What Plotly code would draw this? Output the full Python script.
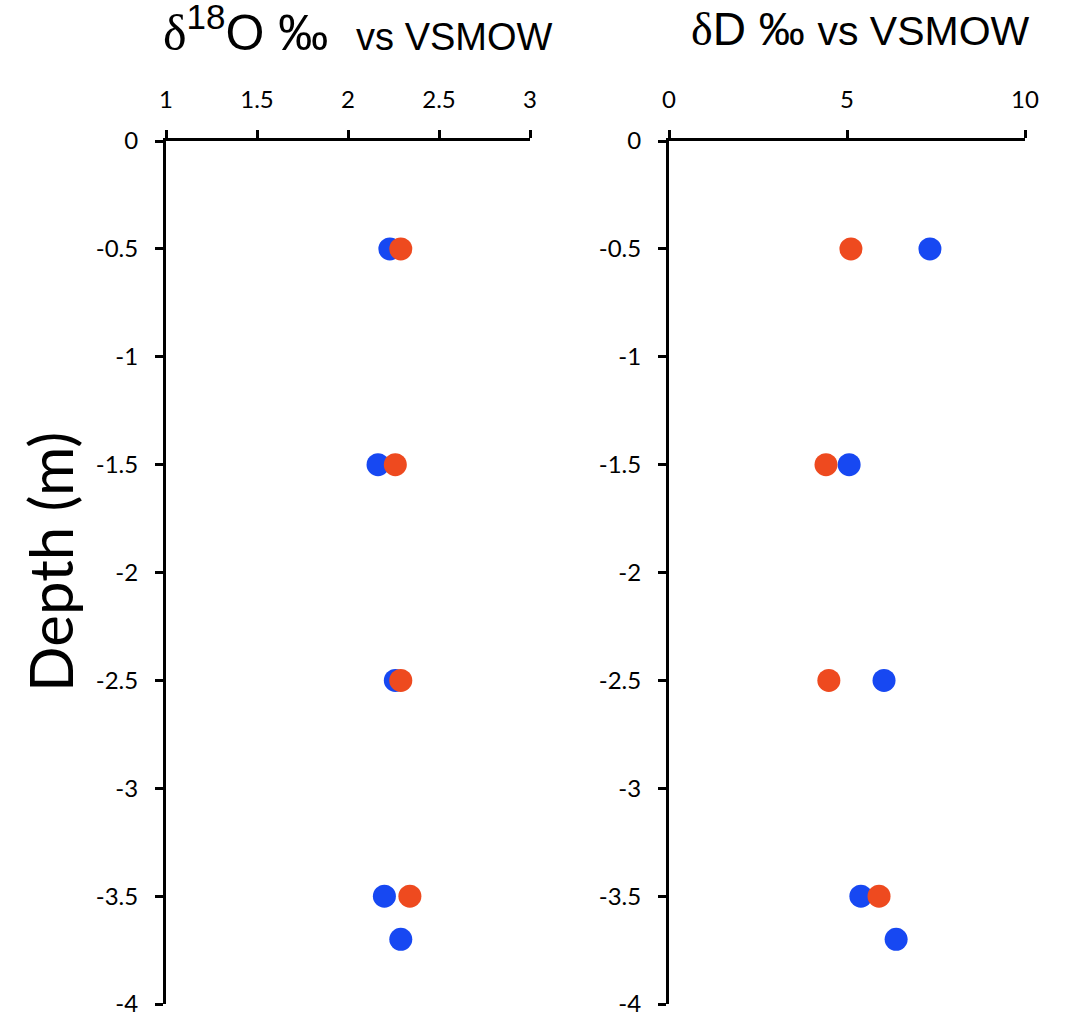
import plotly.graph_objects as go

# Data
depth_blue = [-0.5, -1.5, -2.5, -3.5, -3.7]
d18o_blue = [2.23, 2.165, 2.26, 2.20, 2.29]
dD_blue = [7.33, 5.06, 6.04, 5.39, 6.38]

depth_red = [-0.5, -1.5, -2.5, -3.5]
d18o_red = [2.29, 2.26, 2.29, 2.34]
dD_red = [5.11, 4.41, 4.49, 5.90]

y_ticks = [0, -0.5, -1, -1.5, -2, -2.5, -3, -3.5, -4]
y_ticktext = ["0", "-0.5", "-1", "-1.5", "-2", "-2.5", "-3", "-3.5", "-4"]
x1_ticks = [1, 1.5, 2, 2.5, 3]
x1_ticktext = ["1", "1.5", "2", "2.5", "3"]
x2_ticks = [0, 5, 10]
x2_ticktext = ["0", "5", "10"]

BLUE = "#1748f2"
RED = "#ee4a1f"
MS = 23

fig = go.Figure()
fig.add_trace(go.Scatter(x=d18o_blue, y=depth_blue, mode="markers",
                         marker=dict(color=BLUE, size=MS, line=dict(width=0)),
                         xaxis="x", yaxis="y", showlegend=False, cliponaxis=False))
fig.add_trace(go.Scatter(x=d18o_red, y=depth_red, mode="markers",
                         marker=dict(color=RED, size=MS, line=dict(width=0)),
                         xaxis="x", yaxis="y", showlegend=False, cliponaxis=False))
fig.add_trace(go.Scatter(x=dD_blue, y=depth_blue, mode="markers",
                         marker=dict(color=BLUE, size=MS, line=dict(width=0)),
                         xaxis="x2", yaxis="y2", showlegend=False, cliponaxis=False))
fig.add_trace(go.Scatter(x=dD_red, y=depth_red, mode="markers",
                         marker=dict(color=RED, size=MS, line=dict(width=0)),
                         xaxis="x2", yaxis="y2", showlegend=False, cliponaxis=False))

W, H = 1066, 1025
tickfont = dict(family="Lato, Open Sans, sans-serif", size=24, color="black")
ydom = [(H - 1004) / H, (H - 141) / H]

axis_common = dict(showline=True, linecolor="black", linewidth=3, ticks="outside",
                   tickwidth=3, ticklen=8, tickcolor="black", showgrid=False,
                   zeroline=False, tickfont=tickfont, automargin=False)

fig.update_layout(
    width=W, height=H,
    margin=dict(l=0, r=0, t=0, b=0),
    paper_bgcolor="white", plot_bgcolor="white",
    xaxis=dict(domain=[166 / W, 530 / W], range=[1, 3], side="top", anchor="y",
               tickvals=x1_ticks, ticktext=x1_ticktext, ticklabelstandoff=12, **axis_common),
    yaxis=dict(domain=ydom, range=[-4, 0], anchor="x",
               tickvals=y_ticks, ticktext=y_ticktext, ticklabelstandoff=12, **axis_common),
    xaxis2=dict(domain=[669 / W, 1025 / W], range=[0, 10], side="top", anchor="y2",
                tickvals=x2_ticks, ticktext=x2_ticktext, ticklabelstandoff=12, **axis_common),
    yaxis2=dict(domain=ydom, range=[-4, 0], anchor="x2",
                tickvals=y_ticks, ticktext=y_ticktext, ticklabelstandoff=12, **axis_common),
)

fig.add_annotation(
    x=358 / W, y=1 - 29 / H, xref="paper", yref="paper", showarrow=False,
    xanchor="center", yanchor="middle",
    text="<span style='font-family:Liberation Serif'>δ</span><sup>18</sup>O ‰  "
         "<span style='font-size:38px'>vs VSMOW</span>",
    font=dict(family="Liberation Sans, Arial, sans-serif", size=50, color="black"),
)
fig.add_annotation(
    x=860 / W, y=1 - 29 / H, xref="paper", yref="paper", showarrow=False,
    xanchor="center", yanchor="middle",
    text="<span style='font-family:Liberation Serif'>δ</span>D ‰ "
         "<span style='font-size:41px'>vs VSMOW</span>",
    font=dict(family="Liberation Sans, Arial, sans-serif", size=46, color="black"),
)
fig.add_annotation(
    x=50 / W, y=1 - 562 / H, xref="paper", yref="paper", showarrow=False,
    xanchor="center", yanchor="middle", textangle=-90,
    text="Depth (m)",
    font=dict(family="Lato, Open Sans, sans-serif", size=60, color="black"),
)

fig.write_html("out.html")
